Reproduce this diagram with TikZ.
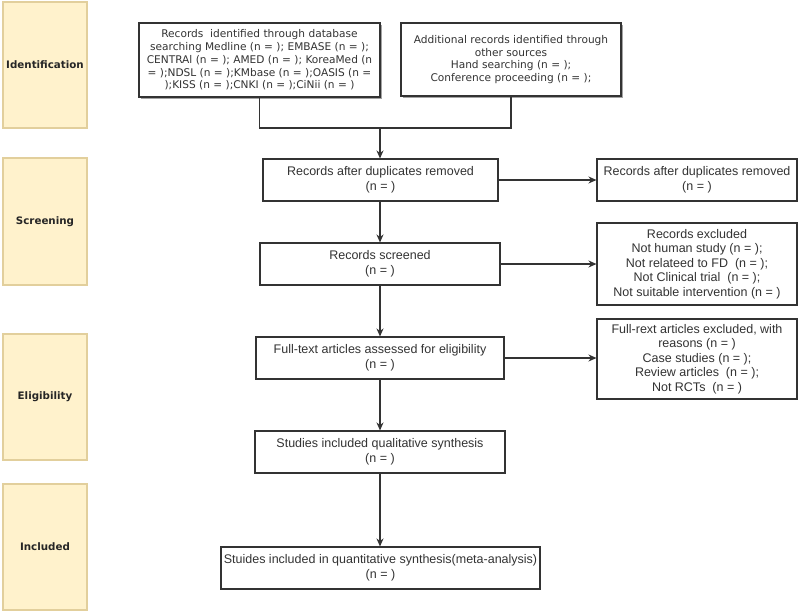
\documentclass[tikz,border=0pt]{standalone}
\usepackage{fontspec}
\setmainfont{Liberation Sans}
\newfontfamily\dvfont{DejaVu Sans}
\usetikzlibrary{arrows.meta,shadows}
\definecolor{stagefill}{HTML}{FFF2CC}
\definecolor{stageline}{HTML}{E2CF9C}
\definecolor{boxline}{HTML}{333333}
\definecolor{txt}{HTML}{333333}
\tikzset{
  stage/.style={draw=stageline, line width=1.2pt, fill=stagefill, minimum width=84pt, minimum height=126pt, inner sep=0pt, font=\dvfont\bfseries\fontsize{10.3}{12}\selectfont, text=black!85},
  srcbox/.style={draw=boxline, line width=1.1pt, fill=white, inner sep=0pt, align=center, text=txt, font=\dvfont\fontsize{10.6}{12.7}\selectfont, drop shadow={shadow xshift=2pt, shadow yshift=-2pt, fill=black!45, opacity=0.8}},
  flowbox/.style={draw=boxline, line width=1.1pt, fill=white, inner sep=0pt, align=center, text=txt, font=\fontsize{12.5}{14.6}\selectfont},
  conn/.style={draw=boxline, line width=1.1pt},
  arr/.style={conn, -{Stealth[length=8pt,width=7pt]}}
}
\begin{document}
\begin{tikzpicture}[x=1pt,y=-1pt]
\useasboundingbox (0,0) rectangle (800,613);
\fill[white] (0,0) rectangle (800,613);
% stage labels
\node[stage] (sid) at (45,65) {Identification};
\node[stage, minimum height=127pt] (sscr) at (45,221.5) {Screening};
\node[stage] (selig) at (45,397) {Eligibility};
\node[stage] (sinc) at (45,547) {Included};
% source boxes
\node[srcbox, minimum width=241pt, minimum height=74pt] (rec1) at (259.5,60) {Records\ \ identified through database\\searching Medline (n = ); EMBASE (n = );\\CENTRAl (n = ); AMED (n = ); KoreaMed (n\\= );NDSL (n = );KMbase (n = );OASIS (n =\\);KISS (n = );CNKI (n = );CiNii (n = )};
\node[srcbox, minimum width=220pt, minimum height=73pt] (rec2) at (511,59.5) {Additional records identified through\\other sources\\Hand searching (n = );\\Conference proceeding (n = );};
% flow boxes
\node[flowbox, minimum width=235pt, minimum height=42pt] (dup) at (380.5,180) {Records after duplicates removed\\(n = )};
\node[flowbox, minimum width=200pt, minimum height=42pt] (dupR) at (697,180) {Records after duplicates removed\\(n = )};
\node[flowbox, minimum width=240pt, minimum height=42pt] (scrd) at (380,264) {Records screened\\(n = )};
\node[flowbox, minimum width=200pt, minimum height=82pt] (excl) at (697,264) {Records excluded\\Not human study (n = );\\Not relateed to FD\ \ (n = );\\Not Clinical trial\ \ (n = );\\Not suitable intervention (n = )};
\node[flowbox, minimum width=248pt, minimum height=42pt] (full) at (380,358) {Full-text articles assessed for eligibility\\(n = )};
\node[flowbox, minimum width=200pt, minimum height=80pt] (fullx) at (697,359) {Full-rext articles excluded, with\\reasons (n = )\\Case studies (n = );\\Review articles\ \ (n = );\\Not RCTs\ \ (n = )};
\node[flowbox, minimum width=250pt, minimum height=42pt] (qual) at (380,452) {Studies included qualitative synthesis\\(n = )};
\node[flowbox, minimum width=319pt, minimum height=42pt] (quant) at (380.5,568) {Stuides included in quantitative synthesis(meta-analysis)\\(n = )};
% connectors
\coordinate (m) at (380,128);
\draw[conn] (rec1.south) -- (rec1.south |- m) -- (rec2.south |- m) -- (rec2.south);
\draw[arr] (m) -- (m |- dup.north);
\draw[arr] (dup.east) -- (dupR.west);
\draw[arr] (scrd.south -| m) -- (m |- full.north);
\draw[arr] (dup.south -| m) -- (m |- scrd.north);
\draw[arr] (scrd.east) -- (excl.west);
\draw[arr] (full.east) -- (full.east -| fullx.west);
\draw[arr] (full.south -| m) -- (m |- qual.north);
\draw[arr] (qual.south -| m) -- (m |- quant.north);
\end{tikzpicture}
\end{document}
